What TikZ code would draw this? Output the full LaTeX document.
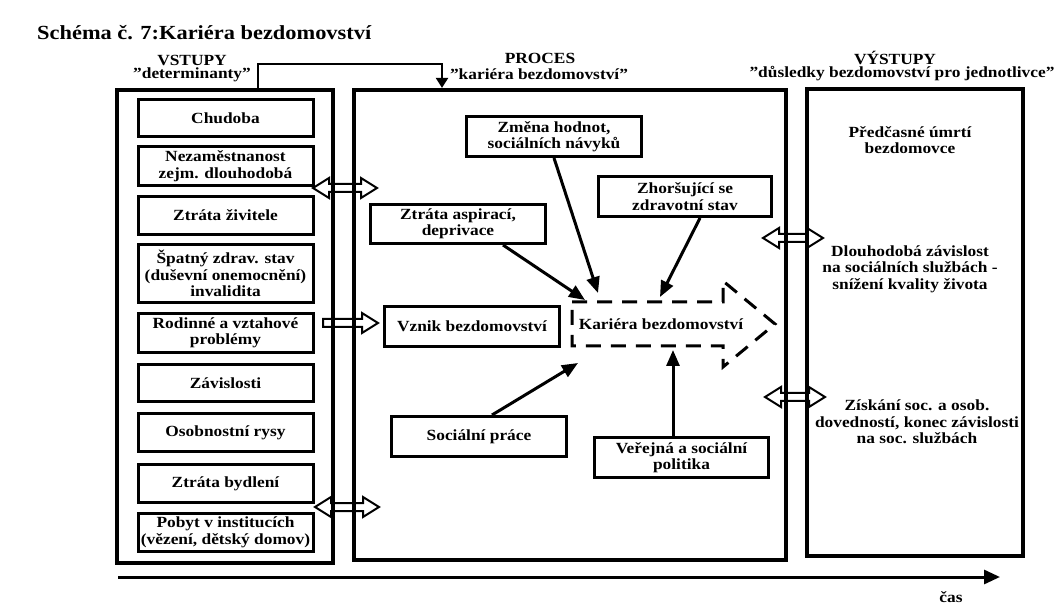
\documentclass[tikz,border=0pt]{standalone}
\usepackage{fontspec}
\setmainfont{Liberation Serif}[FakeStretch=1.12]
\usetikzlibrary{arrows.meta}
\newcommand{\bx}{\fontsize{15.5}{16.5}\selectfont\bfseries}
\newcommand{\hdbl}[3]{\draw[harrow] (#1,#3) -- ({#1+16},{#3-10}) -- ({#1+16},{#3-4}) -- ({#2-16},{#3-4}) -- ({#2-16},{#3-10}) -- (#2,#3) -- ({#2-16},{#3+10}) -- ({#2-16},{#3+4}) -- ({#1+16},{#3+4}) -- ({#1+16},{#3+10}) -- cycle;}
\newcommand{\hsgl}[3]{\draw[harrow] (#1,{#3-4}) -- ({#2-16},{#3-4}) -- ({#2-16},{#3-10}) -- (#2,#3) -- ({#2-16},{#3+10}) -- ({#2-16},{#3+4}) -- (#1,{#3+4}) -- cycle;}
\begin{document}
\begin{tikzpicture}[x=1pt,y=-1pt,
  outerbox/.style={draw, line width=4.2pt, inner sep=0pt},
  inbox/.style={draw, line width=3pt, inner sep=0pt, align=center, font=\bx},
  lbl/.style={font=\bx, align=center, inner sep=0pt},
  conn/.style={line width=3pt, -{Triangle[length=16pt,width=13pt]}},
  topconn/.style={line width=2.2pt, -{Triangle[length=10pt,width=12pt]}},
  harrow/.style={line width=2pt, line join=miter},
  dashbox/.style={line width=3pt, dash pattern=on 15pt off 10pt}]
\useasboundingbox (0,0) rectangle (1061,612);
\fill[white] (0,0) rectangle (1061,612);

% title and headings
\node[anchor=west, inner sep=0pt, font=\fontsize{20}{22}\selectfont\bfseries] (title) at (37,33) {Schéma č. 7:Kariéra bezdomovství};
\node[lbl] (h1a) at (192,60) {VSTUPY};
\node[lbl] (h1b) at (192,75) {"determinanty"};
\node[lbl] (h2a) at (540,58) {PROCES};
\node[lbl] (h2b) at (539,74) {"kariéra bezdomovství"};
\node[lbl] (h3a) at (895,58) {VÝSTUPY};
\node[lbl] (h3b) at (902,74) {"důsledky bezdomovství pro jednotlivce"};

% outer boxes
\node[outerbox, minimum width=216pt, minimum height=473pt] (vst) at (225,326.5) {};
\node[outerbox, minimum width=432pt, minimum height=470pt] (proc) at (570,325) {};
\node[outerbox, minimum width=216pt, minimum height=467pt] (out) at (915,322.5) {};

% inputs
\node[inbox, minimum width=175pt, minimum height=37pt] (i1) at (225.5,118) {Chudoba};
\node[inbox, minimum width=175pt, minimum height=39pt] (i2) at (225.5,166) {Nezaměstnanost\\zejm. dlouhodobá};
\node[inbox, minimum width=175pt, minimum height=38pt] (i3) at (225.5,215.5) {Ztráta živitele};
\node[inbox, minimum width=175pt, minimum height=58pt] (i4) at (225.5,273.5) {Špatný zdrav. stav\\(duševní onemocnění)\\invalidita};
\node[inbox, minimum width=175pt, minimum height=39pt] (i5) at (225.5,333) {Rodinné a vztahové\\problémy};
\node[inbox, minimum width=175pt, minimum height=37pt] (i6) at (225.5,383) {Závislosti};
\node[inbox, minimum width=175pt, minimum height=38pt] (i7) at (225.5,432.5) {Osobnostní rysy};
\node[inbox, minimum width=175pt, minimum height=38pt] (i8) at (225.5,483.5) {Ztráta bydlení};
\node[inbox, minimum width=175pt, minimum height=38pt] (i9) at (225.5,532.5) {Pobyt v institucích\\(vězení, dětský domov)};

% process boxes
\node[inbox, minimum width=175pt, minimum height=40pt] (zmena) at (554,136.5) {Změna hodnot,\\sociálních návyků};
\node[inbox, minimum width=173pt, minimum height=40pt] (zhor) at (685,196.5) {Zhoršující se\\zdravotní stav};
\node[inbox, minimum width=175pt, minimum height=39pt] (aspir) at (458,224) {Ztráta aspirací,\\deprivace};
\node[inbox, minimum width=175pt, minimum height=40pt] (vznik) at (472,326.5) {Vznik bezdomovství};
\node[inbox, minimum width=175pt, minimum height=40pt] (socp) at (479,436.5) {Sociální práce};
\node[inbox, minimum width=174pt, minimum height=40pt] (verp) at (681.5,457.5) {Veřejná a sociální\\politika};

% dashed career arrow
\draw[dashbox] (572,302) -- (723,302) -- (723,281) -- (775,324) -- (723,367) -- (723,346) -- (572,346) -- cycle;
\node[lbl] (kar) at (661,324) {Kariéra bezdomovství};
\coordinate (k1) at (598,293);
\coordinate (k2) at (660,297);
\coordinate (k3) at (585,300);
\coordinate (k4) at (578,363);
\coordinate (k5) at (673,350);

\draw[conn] (zmena.south) -- (k1);
\draw[conn] ([xshift=15pt]zhor.south) -- (k2);
\draw[conn] ([xshift=45pt]aspir.south) -- (k3);
\draw[conn] ([xshift=13pt]socp.north) -- (k4);
\draw[conn] ([xshift=-8.5pt]verp.north) -- (k5);

% outputs
\node[lbl] (o1) at (910,140) {Předčasné úmrtí\\bezdomovce};
\node[lbl] (o2) at (910,269) {Dlouhodobá závislost\\na sociálních službách -\\snížení kvality života};
\node[lbl] (o3) at (917,422) {Získání soc. a osob.\\dovedností, konec závislosti\\na soc. službách};

% top connector
\draw[topconn] ([xshift=33pt]vst.north) -- ++(0,-24) -| ([xshift=-128pt]proc.north);

% hollow arrows
\hdbl{313}{377}{188}
\hsgl{323}{378}{323}
\hdbl{315}{379}{507}
\hdbl{763}{823}{238}
\hdbl{765}{825}{397}

% time axis
\coordinate (t0) at (118,577);
\coordinate (t1) at (1000,577);
\draw[line width=3pt, -{Triangle[length=16pt,width=14pt]}] (t0) -- (t1);
\node[lbl] (cas) at (951,597) {čas};
\end{tikzpicture}
\end{document}
